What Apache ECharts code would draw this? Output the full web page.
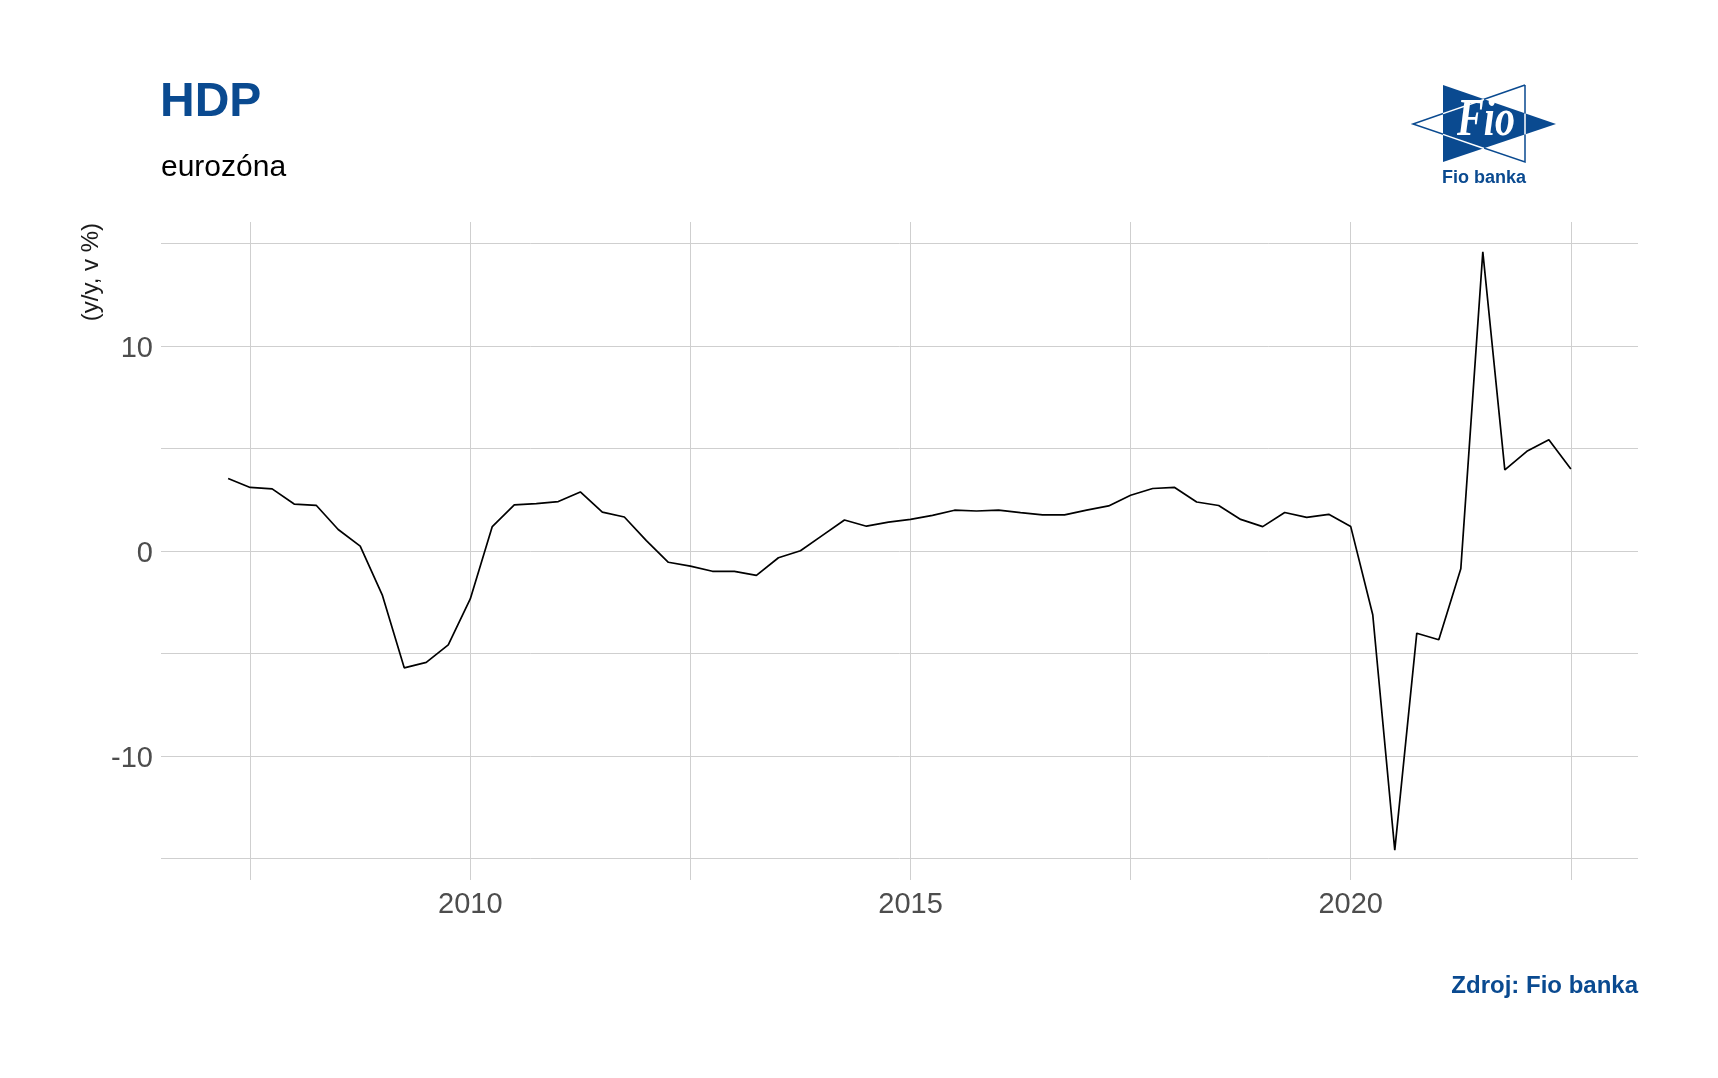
<!DOCTYPE html>
<html>
<head>
<meta charset="utf-8">
<script src="https://cdn.jsdelivr.net/npm/echarts@6/dist/echarts.min.js"></script>
<style>
html,body{margin:0;padding:0;background:#ffffff;}
#chart{width:1718px;height:1078px;}
</style>
</head>
<body>
<div id="chart"></div>
<script>
// ---- data ----
const quarters = [
  '2007Q2','2007Q3','2007Q4',
  '2008Q1','2008Q2','2008Q3','2008Q4',
  '2009Q1','2009Q2','2009Q3','2009Q4',
  '2010Q1','2010Q2','2010Q3','2010Q4',
  '2011Q1','2011Q2','2011Q3','2011Q4',
  '2012Q1','2012Q2','2012Q3','2012Q4',
  '2013Q1','2013Q2','2013Q3','2013Q4',
  '2014Q1','2014Q2','2014Q3','2014Q4',
  '2015Q1','2015Q2','2015Q3','2015Q4',
  '2016Q1','2016Q2','2016Q3','2016Q4',
  '2017Q1','2017Q2','2017Q3','2017Q4',
  '2018Q1','2018Q2','2018Q3','2018Q4',
  '2019Q1','2019Q2','2019Q3','2019Q4',
  '2020Q1','2020Q2','2020Q3','2020Q4',
  '2021Q1','2021Q2','2021Q3','2021Q4',
  '2022Q1','2022Q2','2022Q3'
];
const gdpYoY = [
  3.53, 3.09, 3.02,
  2.28, 2.22, 1.04, 0.23,
  -2.15, -5.71, -5.44, -4.59,
  -2.35, 1.18, 2.24, 2.30,
  2.40, 2.87, 1.89, 1.65,
  0.50, -0.56, -0.75, -1.00,
  -1.00, -1.20, -0.34, 0.00,
  0.75, 1.50, 1.20, 1.40,
  1.53, 1.73, 1.98, 1.94,
  1.98, 1.86, 1.75, 1.75,
  1.98, 2.19, 2.71, 3.04,
  3.09, 2.38, 2.21, 1.53,
  1.18, 1.87, 1.63, 1.78,
  1.18, -3.12, -14.60, -4.02,
  -4.34, -0.88, 14.58, 3.95,
  4.85, 5.42, 3.99
];
const xGridValues = [2007.5, 2010, 2012.5, 2015, 2017.5, 2020, 2022.5];
const xLabelValues = [2010, 2015, 2020];
const yGridValues = [-15, -10, -5, 0, 5, 10, 15];
const yLabelValues = [-10, 0, 10];
const titleText = 'HDP';
const subtitleText = 'eurozóna';
const yAxisTitle = '(y/y, v %)';
const captionText = 'Zdroj: Fio banka';
const logoText = 'Fio';
const logoCaption = 'Fio banka';

// ---- helpers ----
function quarterToYear(q) {
  const y = parseInt(q.slice(0, 4), 10);
  const n = parseInt(q.slice(5), 10);
  return y + (n - 1) / 4;
}
const xs = quarters.map(quarterToYear);
const seriesData = xs.map((x, i) => [x, gdpYoY[i]]);
const xMinData = Math.min.apply(null, xs), xMaxData = Math.max.apply(null, xs);
const yMinData = Math.min.apply(null, gdpYoY), yMaxData = Math.max.apply(null, gdpYoY);
const xPad = (xMaxData - xMinData) * 0.05;
const yPad = (yMaxData - yMinData) * 0.05;

const BLUE = '#0a4a90';
const FONT = '"Liberation Sans", Arial, Helvetica, sans-serif';
const gridColor = '#cfcfcf';

const chart = echarts.init(document.getElementById('chart'), null, {renderer: 'canvas'});
const option = {
  animation: false,
  backgroundColor: '#ffffff',
  grid: {left: 161, right: 80, top: 222, bottom: 198, containLabel: false},
  xAxis: {
    type: 'value',
    min: xMinData - xPad,
    max: xMaxData + xPad,
    axisLine: {show: false},
    axisTick: {show: false, customValues: xGridValues},
    axisLabel: {
      customValues: xLabelValues,
      margin: 10,
      color: '#4d4d4d',
      fontSize: 29,
      fontFamily: FONT,
      formatter: v => String(Math.round(v))
    },
    splitLine: {show: true, lineStyle: {color: gridColor, width: 1}}
  },
  yAxis: {
    type: 'value',
    min: yMinData - yPad,
    max: yMaxData + yPad,
    axisLine: {show: false},
    axisTick: {show: false, customValues: yGridValues},
    axisLabel: {
      customValues: yLabelValues,
      margin: 8,
      color: '#4d4d4d',
      fontSize: 29,
      fontFamily: FONT,
      formatter: v => '{t|' + String(Math.round(v)) + '}',
      rich: {
        t: {color: '#4d4d4d', fontSize: 29, fontFamily: FONT, padding: [7, 0, 0, 0]}
      }
    },
    splitLine: {show: true, lineStyle: {color: gridColor, width: 1}}
  },
  series: [{
    type: 'line',
    data: seriesData,
    showSymbol: false,
    symbol: 'none',
    lineStyle: {color: '#000000', width: 1.7},
    z: 5
  }],
  graphic: [
    {type: 'text', left: 160, top: 79, style: {text: titleText, font: 'bold 48px ' + FONT, fill: BLUE}},
    {type: 'text', left: 161, top: 153, style: {text: subtitleText, font: '30px ' + FONT, fill: '#000000'}},
    {type: 'text', x: 91, y: 223, rotation: Math.PI / 2,
      style: {text: yAxisTitle, font: '24px ' + FONT, fill: '#1a1a1a', align: 'right', verticalAlign: 'middle'}},
    {type: 'text', x: 1638, y: 986,
      style: {text: captionText, font: 'bold 24px ' + FONT, fill: BLUE, align: 'right', verticalAlign: 'middle'}},
    // logo
    {type: 'polyline', shape: {points: [[1525, 85], [1413, 124], [1525, 162], [1525, 85]]},
      style: {stroke: BLUE, lineWidth: 1.5, fill: '#ffffff'}},
    {type: 'polygon', shape: {points: [[1443, 85], [1556, 124], [1443, 162]]},
      style: {fill: BLUE}},
    {type: 'polyline', shape: {points: [[1484, 99.5], [1443, 113.6]]},
      style: {stroke: '#ffffff', lineWidth: 1.5}},
    {type: 'polyline', shape: {points: [[1484, 148.5], [1443, 134.4]]},
      style: {stroke: '#ffffff', lineWidth: 1.5}},
    {type: 'polyline', shape: {points: [[1525, 113.5], [1525, 134.5]]},
      style: {stroke: '#ffffff', lineWidth: 1.5}},
    {type: 'text', x: 1486, y: 122, scaleY: 1.3,
      style: {text: logoText, font: 'italic bold 40px "Liberation Serif", "Times New Roman", serif', fill: '#ffffff', align: 'center', verticalAlign: 'middle'}},
    {type: 'text', x: 1484, y: 178,
      style: {text: logoCaption, font: 'bold 18px ' + FONT, fill: BLUE, align: 'center', verticalAlign: 'middle'}}
  ]
};
chart.setOption(option);
</script>
</body>
</html>
